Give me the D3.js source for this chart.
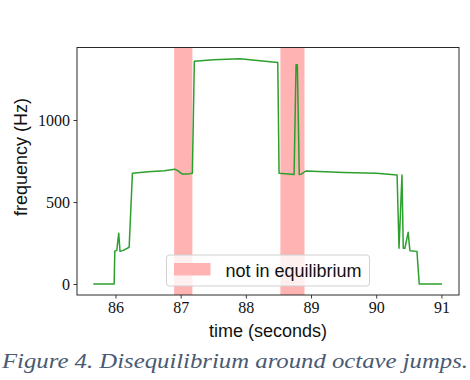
<!DOCTYPE html>
<html>
<head>
<meta charset="utf-8">
<script src="https://cdn.jsdelivr.net/npm/d3@7"></script>
<style>
  body { margin: 0; background: #fff; }
</style>
</head>
<body>
<div id="plotarea"></div>
<script>
// time (seconds) and frequency (Hz)
var times = [85.66, 85.98, 85.99, 86.02, 86.05, 86.07, 86.12, 86.21, 86.26, 86.5, 86.75, 86.91,
  86.96, 87.02, 87.10, 87.18, 87.21, 87.5, 87.91, 88.1, 88.49, 88.51, 88.74, 88.77, 88.79,
  88.82, 88.85, 88.92, 89.5, 90.0, 90.32, 90.35, 90.395, 90.415, 90.44, 90.49, 90.517,
  90.625, 90.66, 91.01];
var freqs = [0, 0, 200, 205, 309, 199, 205, 224, 675, 685, 690, 700,
  690, 671, 670, 675, 1358, 1367, 1374, 1366, 1350, 675, 667, 1337, 1337,
  667, 670, 689, 680, 675, 665, 218, 665, 218, 218, 315, 203,
  199, 0, 0];
// regions marked as not in equilibrium
var spanStart = [86.90, 88.53];
var spanEnd = [87.18, 88.90];
var xTicks = [86, 87, 88, 89, 90, 91];
var yTicks = [0, 500, 1000];
var legendLabel = "not in equilibrium";

var W = 470, H = 380;
var margin_left = 77, margin_top = 47.5;
var width = 459 - 77, height = 295 - 47.5;

var svg = d3.select("#plotarea").append("svg")
  .attr("width", W).attr("height", H)
  .style("font-family", "'Liberation Sans', Arial, sans-serif");

var g = svg.append("g")
  .attr("transform", "translate(" + margin_left + "," + margin_top + ")");

var x = d3.scaleLinear().domain([85.41, 91.27]).range([0, width]);
var y = d3.scaleLinear().domain([-67, 1442]).range([height, 0]);

// shaded spans
g.selectAll("rect.span").data(spanStart).enter().append("rect")
  .attr("class", "span")
  .attr("x", function(d) { return x(d); })
  .attr("y", 0)
  .attr("width", function(d, i) { return x(spanEnd[i]) - x(d); })
  .attr("height", height)
  .attr("fill", "#ffb3b3");

// the frequency trace
var pts = times.map(function(t, i) { return [t, freqs[i]]; });
g.append("path")
  .datum(pts)
  .attr("fill", "none")
  .attr("stroke", "#2ca02c")
  .attr("stroke-width", 1.5)
  .attr("stroke-linejoin", "round")
  .attr("d", d3.line().x(function(d) { return x(d[0]); }).y(function(d) { return y(d[1]); }));

// axes
var xAxis = g.append("g")
  .attr("transform", "translate(0," + height + ")")
  .call(d3.axisBottom(x).tickValues(xTicks).tickFormat(d3.format("d")).tickSize(3.5).tickPadding(3.5).tickSizeOuter(0));
var yAxis = g.append("g")
  .call(d3.axisLeft(y).tickValues(yTicks).tickFormat(d3.format("d")).tickSize(3.5).tickPadding(3.5).tickSizeOuter(0));
[xAxis, yAxis].forEach(function(a) {
  a.select(".domain").remove();
  a.selectAll("line").attr("stroke", "#222").attr("stroke-width", 0.9);
  a.selectAll("text")
    .attr("fill", "#111")
    .style("font-family", "'Liberation Serif', 'Times New Roman', serif")
    .style("font-size", "16px");
});

// frame
g.append("rect")
  .attr("x", 0).attr("y", 0)
  .attr("width", width).attr("height", height)
  .attr("fill", "none")
  .attr("stroke", "#2a2a2a")
  .attr("stroke-width", 1);

// axis labels
svg.append("text")
  .attr("x", margin_left + width / 2)
  .attr("y", 336.5)
  .attr("text-anchor", "middle")
  .style("font-size", "18px")
  .attr("fill", "#111")
  .text("time (seconds)");

svg.append("text")
  .attr("transform", "translate(27,157)rotate(-90)")
  .attr("text-anchor", "middle")
  .style("font-size", "18px")
  .attr("fill", "#111")
  .text("frequency (Hz)");

// legend
var lg = svg.append("g").attr("transform", "translate(166.5,255)");
lg.append("rect")
  .attr("width", 203).attr("height", 31)
  .attr("rx", 3)
  .attr("fill", "#fff").attr("fill-opacity", 0.8)
  .attr("stroke", "#d0d0d0").attr("stroke-width", 1);
lg.append("rect")
  .attr("x", 7.5).attr("y", 8).attr("width", 36.5).attr("height", 12.5)
  .attr("fill", "#ffb3b3");
lg.append("text")
  .attr("x", 59).attr("y", 21.5)
  .style("font-size", "18px")
  .attr("fill", "#111")
  .text(legendLabel);

// caption
svg.append("text")
  .attr("x", 2).attr("y", 368)
  .attr("textLength", 466)
  .attr("lengthAdjust", "spacingAndGlyphs")
  .style("font-family", "'Liberation Serif', 'Times New Roman', serif")
  .style("font-style", "italic")
  .style("font-size", "21px")
  .attr("fill", "#4a5a72")
  .text("Figure 4. Disequilibrium around octave jumps.");
</script>
</body>
</html>
